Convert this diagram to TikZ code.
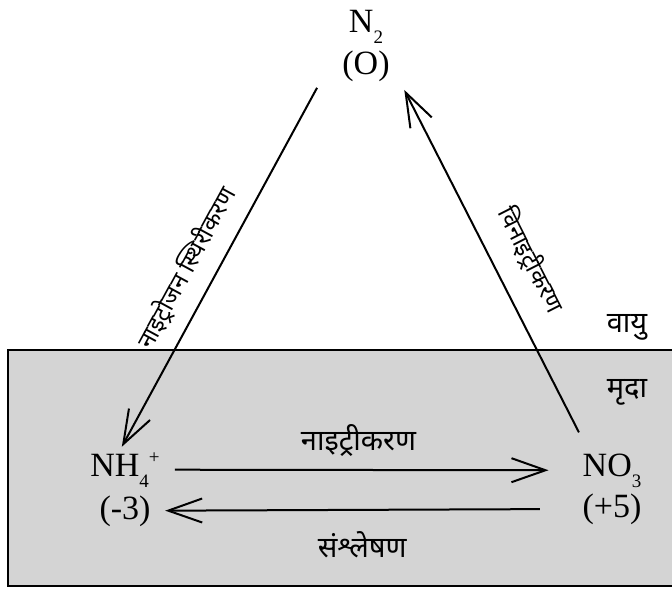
\documentclass[tikz,border=0pt]{standalone}
\usepackage{fontspec}
\setmainfont{Liberation Serif}
\newfontfamily\hindi[Script=Devanagari]{Noto Sans}
\usetikzlibrary{arrows.meta, positioning}
\definecolor{grisSuelo}{HTML}{D4D4D4}
\newcommand{\chsub}[1]{\raisebox{-11pt}{\fontsize{19}{19}\selectfont #1}}
\newcommand{\chsup}[1]{\raisebox{13pt}{\fontsize{19}{19}\selectfont #1}}

\begin{document}
\begin{tikzpicture}[x=1pt, y=-1pt,
        spc/.style={inner sep=0pt, anchor=base, font=\fontsize{34}{40}\selectfont},
        lbl/.style={inner sep=0pt, font=\hindi\fontsize{24}{28}\selectfont},
        lblh/.style={inner sep=0pt, font=\hindi\fontsize{29}{34}\selectfont},
        rxn/.style={-{Straight Barb[length=34pt, width=24pt]}, line width=2pt},
        soil/.style={draw, line width=1.6pt, fill=grisSuelo}
    ]
        \useasboundingbox (0,0) rectangle (672,595);
        \draw[soil] (8,350) rectangle (690,586);

        \node[spc] (n2) at (366,32) {N\chsub{2}};
        \node[spc] (n2ox) at ([yshift=-42pt]n2.base) {(O)};
        \node[spc] (nh4) at (125,476) {NH\chsub{4}\chsup{+}};
        \node[spc] (nh4ox) at (125,519) {(-3)};
        \node[spc] (no3) at (612,476) {NO\chsub{3}};
        \node[spc] (no3ox) at (612,517) {(+5)};

        \node[lblh] (air) at (627,327) {वायु};
        \node[lblh] (soil) at (627,392) {मृदा};

        \draw[rxn, shorten <=25pt, shorten >=26pt] ([xshift=-37pt]n2ox.center) --
            node[lbl, sloped, above=14pt, pos=0.535]{नाइट्रोजन स्थिरीकरण} ([xshift=-15.6pt]nh4.center);
        \draw[rxn, shorten <=42.6pt, shorten >=27pt] ([xshift=-13.7pt]no3.center) --
            node[lbl, sloped, above=21pt, pos=0.48]{विनाइट्रीकरण} ([xshift=26pt]n2ox.center);
        \draw[rxn, shorten <=15pt, shorten >=34pt] (nh4) -- node[lblh, above=12pt, pos=0.47]{नाइट्रीकरण} (no3);
        \draw[rxn, shorten <=42.6pt, shorten >=14.5pt] (no3ox) -- node[lblh, below=21pt, pos=0.51]{संश्लेषण} (nh4ox);
    \end{tikzpicture}
\end{document}
